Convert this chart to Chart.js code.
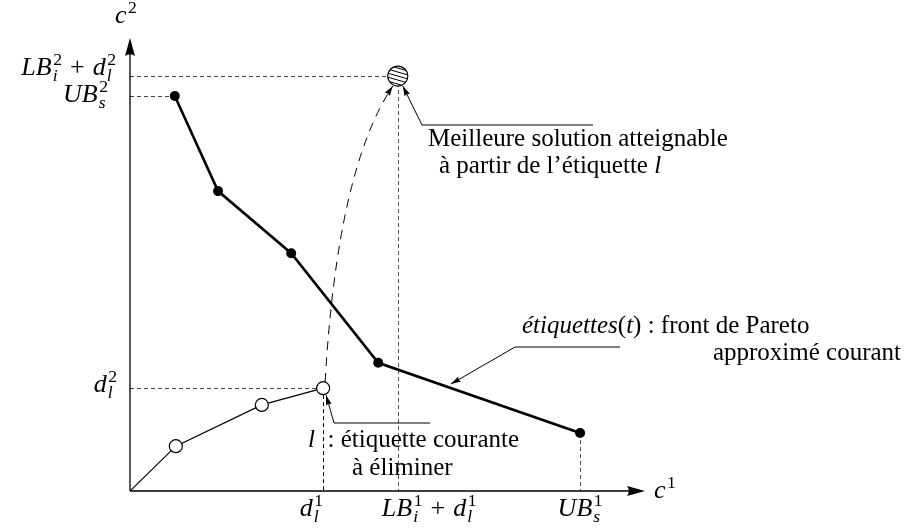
<!DOCTYPE html>
<html>
<head>
<meta charset="utf-8">
<script src="https://cdn.jsdelivr.net/npm/chart.js@4.4.1/dist/chart.umd.min.js"></script>
<style>
  body { margin: 0; background: #fff; }
  #chart { display: block; }
</style>
</head>
<body>
<canvas id="chart" width="905" height="529"></canvas>
<script>
// approximated Pareto front (filled dots)
const paretoC1 = [0.87, 1.71, 3.13, 4.82, 8.74]
const paretoC2 = [8.72, 6.62, 5.25, 2.83, 1.28]
// path of the current label l (open dots, starts at origin)
const labelC1 = [0, 0.89, 2.56, 3.75]
const labelC2 = [0, 0.99, 1.90, 2.27]
// best solution reachable from l
const bestC1 = [5.20]
const bestC2 = [9.16]

const xTicks = [3.75, 5.20, 8.74]
const xTickLabels = ['d_l^1', 'LB_i^1 + d_l^1', 'UB_s^1']
const yTicks = [9.16, 8.72, 2.27]
const yTickLabels = ['LB_i^2 + d_l^2', 'UB_s^2', 'd_l^2']

const FONT = '"Liberation Serif", "Times New Roman", serif'
const SIZE = 25
const MATH = 26

let parseMath = function (s) {
  let out = []
  for (let i = 0; i < s.length; i++) {
    let ch = s[i]
    if (ch == '_' || ch == '^') {
      let last = out[out.length - 1]
      if (!last || last.kind != 'script') {
        last = { kind: 'script' }
        out.push(last)
      }
      last[ch == '_' ? 'sub' : 'sup'] = s[++i]
    } else {
      out.push({ kind: 'char', t: ch, it: /[A-Za-z]/.test(ch) })
    }
  }
  return out
}

let fontFor = (ch, size) => `${ /[A-Za-z]/.test(ch) ? 'italic ' : '' }${ size }px ${ FONT }`

let drawMath = function (ctx, s, x, y, align, size) {
  let parts = parseMath(s)
  let small = size * 0.68
  let widths = parts.map(p => {
    if (p.kind == 'char') {
      ctx.font = fontFor(p.t, size)
      let w = ctx.measureText(p.t).width
      return p.t == ' ' ? w + 1.5 : w
    }
    let w = 0
    for (let k of ['sub', 'sup']) {
      if (p[k]) {
        ctx.font = fontFor(p[k], small)
        w = Math.max(w, ctx.measureText(p[k]).width)
      }
    }
    return w + 1.5
  })
  let total = widths.reduce((a, b) => a + b, 0)
  let cx = align == 'right' ? x - total : align == 'center' ? x - total / 2 : x
  ctx.textAlign = 'left'
  ctx.textBaseline = 'alphabetic'
  parts.forEach((p, i) => {
    if (p.kind == 'char') {
      ctx.font = fontFor(p.t, size)
      ctx.fillText(p.t, cx, y)
    } else {
      if (p.sup) {
        ctx.font = fontFor(p.sup, small)
        ctx.fillText(p.sup, cx + 1.5, y - size * 0.4)
      }
      if (p.sub) {
        ctx.font = fontFor(p.sub, small)
        ctx.fillText(p.sub, cx + 1, y + size * 0.24)
      }
    }
    cx += widths[i]
  })
}

// rich text: [[text, italic], ...]
let drawRich = function (ctx, parts, x, y, align) {
  let widths = parts.map(([t, it]) => {
    ctx.font = `${ it ? 'italic ' : '' }${ SIZE }px ${ FONT }`
    return ctx.measureText(t).width
  })
  let total = widths.reduce((a, b) => a + b, 0)
  let cx = align == 'right' ? x - total : x
  ctx.textAlign = 'left'
  ctx.textBaseline = 'alphabetic'
  parts.forEach(([t, it], i) => {
    ctx.font = `${ it ? 'italic ' : '' }${ SIZE }px ${ FONT }`
    ctx.fillText(t, cx, y)
    cx += widths[i]
  })
}

let arrowHead = function (ctx, tx, ty, angle, len, wid) {
  ctx.save()
  ctx.translate(tx, ty)
  ctx.rotate(angle)
  ctx.beginPath()
  ctx.moveTo(0, 0)
  ctx.lineTo(-len, -wid / 2)
  ctx.quadraticCurveTo(-len * 0.8, 0, -len, wid / 2)
  ctx.closePath()
  ctx.fillStyle = '#000'
  ctx.fill()
  ctx.restore()
}

let leader = function (ctx, pts) {
  ctx.save()
  ctx.strokeStyle = '#000'
  ctx.lineWidth = 1
  ctx.setLineDash([])
  ctx.beginPath()
  ctx.moveTo(pts[0][0], pts[0][1])
  pts.slice(1).forEach(p => ctx.lineTo(p[0], p[1]))
  ctx.stroke()
  let [a, b] = [pts[pts.length - 2], pts[pts.length - 1]]
  arrowHead(ctx, b[0], b[1], Math.atan2(b[1] - a[1], b[0] - a[0]), 10, 6)
  ctx.restore()
}

let guides = {
  id: 'guides',
  beforeDatasetsDraw(chart) {
    let ctx = chart.ctx
    let xs = chart.scales.x, ys = chart.scales.y
    let x0 = xs.getPixelForValue(0), y0 = ys.getPixelForValue(0)
    ctx.save()
    ctx.lineWidth = 1
    ctx.setLineDash([4, 3])
    // horizontal guides, from the c2 axis to the point
    let hz = [[yTicks[0], bestC1[0]], [yTicks[1], paretoC1[0]], [yTicks[2], labelC1[3]]]
    hz.forEach(([v, until]) => {
      ctx.strokeStyle = '#444'
      ctx.beginPath()
      ctx.moveTo(x0, Math.round(ys.getPixelForValue(v)) + 0.5)
      ctx.lineTo(xs.getPixelForValue(until), Math.round(ys.getPixelForValue(v)) + 0.5)
      ctx.stroke()
    })
    // vertical guides, from the point down to the c1 axis
    let vt = [[xTicks[0], labelC2[3], '#000'], [xTicks[1], bestC2[0], '#555'], [xTicks[2], paretoC2[4], '#555']]
    vt.forEach(([v, from, col]) => {
      ctx.strokeStyle = col
      let px = Math.round(xs.getPixelForValue(v)) + 0.5
      ctx.beginPath()
      ctx.moveTo(px, ys.getPixelForValue(from))
      ctx.lineTo(px, y0)
      ctx.stroke()
    })
    ctx.restore()
  },
  afterDatasetsDraw(chart) {
    let ctx = chart.ctx
    let xs = chart.scales.x, ys = chart.scales.y
    let area = chart.chartArea
    let x0 = xs.getPixelForValue(0), y0 = ys.getPixelForValue(0)

    // axes with arrows
    ctx.save()
    ctx.strokeStyle = '#000'
    ctx.lineWidth = 1.3
    ctx.beginPath()
    ctx.moveTo(x0, y0)
    ctx.lineTo(area.right - 10, y0)
    ctx.moveTo(x0, y0)
    ctx.lineTo(x0, area.top + 10)
    ctx.stroke()
    arrowHead(ctx, area.right, y0, 0, 18, 10)
    arrowHead(ctx, x0, area.top, -Math.PI / 2, 18, 10)

    // hatched best point
    let best = chart.getDatasetMeta(2).data[0]
    let r = 10
    ctx.save()
    ctx.beginPath()
    ctx.arc(best.x, best.y, r, 0, Math.PI * 2)
    ctx.fillStyle = '#fff'
    ctx.fill()
    ctx.clip()
    ctx.lineWidth = 1
    ctx.strokeStyle = '#000'
    for (let k = -16; k <= 16; k += 4) {
      ctx.beginPath()
      ctx.moveTo(best.x - 14, best.y + k - 4)
      ctx.lineTo(best.x + 14, best.y + k + 4)
      ctx.stroke()
    }
    ctx.restore()
    ctx.beginPath()
    ctx.arc(best.x, best.y, r, 0, Math.PI * 2)
    ctx.lineWidth = 1.2
    ctx.stroke()

    // dashed curve from label l to the best reachable solution
    let l = chart.getDatasetMeta(1).data[3]
    let sx = l.x + 2, sy = l.y - 6
    let ex = best.x - 5, ey = best.y + 10
    let cx = sx + 12, cy = sy - 213
    ctx.save()
    ctx.lineWidth = 1
    ctx.setLineDash([9, 7])
    ctx.beginPath()
    ctx.moveTo(sx, sy)
    ctx.quadraticCurveTo(cx, cy, ex, ey)
    ctx.stroke()
    ctx.restore()
    arrowHead(ctx, ex, ey, Math.atan2(ey - cy, ex - cx), 10, 6)

    // leaders
    leader(ctx, [[593, 125], [422, 125], [best.x + 5, best.y + 10]])
    leader(ctx, [[620, 347], [515, 347], [451, 384]])
    leader(ctx, [[430, 423], [334, 423], [l.x + 3, l.y + 7]])

    // annotation texts
    ctx.fillStyle = '#000'
    drawRich(ctx, [['Meilleure solution atteignable', 0]], 428, 146)
    drawRich(ctx, [['à partir de l’étiquette ', 0], ['l', 1]], 439, 173)
    drawRich(ctx, [['étiquettes', 1], ['(', 0], ['t', 1], [')', 0], [' : front de Pareto', 0]], 522, 333)
    drawRich(ctx, [['approximé courant', 0]], 901, 360, 'right')
    drawRich(ctx, [['l', 1], ['  : étiquette courante', 0]], 308, 447)
    drawRich(ctx, [['à éliminer', 0]], 352, 475)

    // tick labels
    let xAnchor = [['right', 0], ['left', -16], ['center', 0]]
    xTicks.forEach((v, i) => {
      let [al, dx] = xAnchor[i]
      drawMath(ctx, xTickLabels[i], xs.getPixelForValue(v) + dx, y0 + 25, al, MATH)
    })
    let yAnchor = [[-14, -1], [-22, 6], [-13, 4]]
    yTicks.forEach((v, i) => {
      let [dx, dy] = yAnchor[i]
      drawMath(ctx, yTickLabels[i], x0 + dx, ys.getPixelForValue(v) + dy, 'right', MATH)
    })

    // axis titles
    drawMath(ctx, 'c^2', x0 - 15, area.top - 15, 'left', MATH)
    drawMath(ctx, 'c^1', area.right + 9, y0 + 7, 'left', MATH)
    ctx.restore()
  }
}

new Chart(document.getElementById('chart'), {
  type: 'scatter',
  data: {
    datasets: [{
      label: 'front',
      data: paretoC1.map((v, i) => ({ x: v, y: paretoC2[i] })),
      showLine: true,
      borderColor: '#000',
      borderWidth: 2.6,
      pointRadius: 5,
      pointBorderWidth: 0,
      pointBackgroundColor: '#000'
    }, {
      label: 'l',
      data: labelC1.map((v, i) => ({ x: v, y: labelC2[i] })),
      showLine: true,
      borderColor: '#000',
      borderWidth: 1.2,
      pointRadius: [0, 6.5, 6.5, 6.5],
      pointBorderWidth: 1.2,
      pointBorderColor: '#000',
      pointBackgroundColor: '#fff'
    }, {
      label: 'best',
      data: bestC1.map((v, i) => ({ x: v, y: bestC2[i] })),
      pointRadius: 0
    }]
  },
  options: {
    responsive: false,
    animation: false,
    layout: { padding: { left: 130, right: 260, top: 38, bottom: 38 } },
    scales: {
      x: { type: 'linear', min: 0, max: 10, display: false },
      y: { type: 'linear', min: 0, max: 10, display: false }
    },
    plugins: {
      legend: { display: false },
      tooltip: { enabled: false }
    }
  },
  plugins: [guides]
})
</script>
</body>
</html>
